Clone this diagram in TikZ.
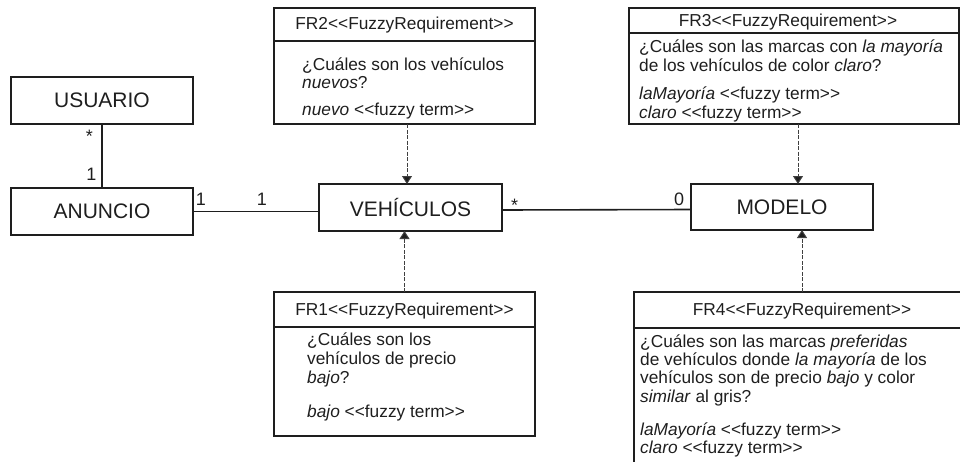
\documentclass[tikz,border=0pt]{standalone}
\usepackage{fontspec}
\setmainfont{Liberation Sans}
\usetikzlibrary{arrows.meta,calc}
\definecolor{ink}{RGB}{30,30,30}
\newcommand\LTs{<\kern0pt<}
\newcommand\GTs{>\kern0pt>}
\begin{document}
\begin{tikzpicture}[x=1pt,y=-1pt,
  box/.style={draw=ink, line width=1.6pt, outer sep=0pt, inner sep=0pt, anchor=north west},
  cls/.style={font=\fontsize{21}{25}\selectfont, text=ink},
  txt/.style={font=\fontsize{17.3}{20}\selectfont, text=ink, anchor=base west, inner sep=0pt},
  hdr/.style={font=\fontsize{17.3}{20}\selectfont, text=ink, anchor=base, inner sep=0pt},
  mult/.style={font=\fontsize{18}{21}\selectfont, text=ink, anchor=base, inner sep=0pt},
  assoc/.style={draw=ink, line width=1.6pt},
  sep/.style={draw=ink, line width=1.6pt},
  dep/.style={draw=ink!85, line width=1pt, dash pattern=on 4pt off 1.5pt, -{Triangle[width=10pt,length=8pt,fill=ink]}}
]
\useasboundingbox (0,0) rectangle (960,461);
\clip (0,0) rectangle (960,461);

% classes
\node[box, cls, minimum width=182pt, minimum height=47pt] (usuario) at (11,77) {USUARIO};
\node[box, cls, minimum width=182pt, minimum height=47pt] (anuncio) at (11,188) {ANUNCIO};
\node[box, cls, minimum width=183pt, minimum height=47pt] (veh) at (319,184) {VEHÍCULOS};
\node[box, cls, minimum width=182pt, minimum height=46pt] (modelo) at (691,184) {MODELO};

% FR2
\node[box, minimum width=261pt, minimum height=116pt] (fr2) at (274,8) {};
\draw[sep] (fr2.west |- 0,41) -- (fr2.east |- 0,41);
\node[hdr] (fr2h) at (fr2.north |- 0,29) {FR2\LTs FuzzyRequirement\GTs};
\node[txt] (fr2a) at (302,70) {¿Cuáles son los vehículos};
\node[txt] (fr2b) at (302,88) {\textit{nuevos}?};
\node[txt] (fr2c) at (302,115) {\textit{nuevo} \LTs fuzzy term\GTs};

% FR3
\node[box, minimum width=330pt, minimum height=116pt] (fr3) at (629,8) {};
\draw[sep] (fr3.west |- 0,33) -- (fr3.east |- 0,33);
\node[hdr] (fr3h) at (788,26) {FR3\LTs FuzzyRequirement\GTs};
\node[txt] (fr3a) at (639,52) {¿Cuáles son las marcas con \textit{la mayoría}};
\node[txt] (fr3b) at (639,71) {de los vehículos de color \textit{claro}?};
\node[txt] (fr3c) at (639,99) {\textit{laMayoría} \LTs fuzzy term\GTs};
\node[txt] (fr3d) at (639,118) {\textit{claro} \LTs fuzzy term\GTs};

% FR1
\node[box, minimum width=261pt, minimum height=144pt] (fr1) at (274,292) {};
\draw[sep] (fr1.west |- 0,327) -- (fr1.east |- 0,327);
\node[hdr] (fr1h) at (fr1.north |- 0,315) {FR1\LTs FuzzyRequirement\GTs};
\node[txt] (fr1a) at (307,345) {¿Cuáles son los};
\node[txt] (fr1b) at (307,364) {vehículos de precio};
\node[txt] (fr1c) at (307,383) {\textit{bajo}?};
\node[txt] (fr1d) at (307,417) {\textit{bajo} \LTs fuzzy term\GTs};

% FR4
\node[box, minimum width=336pt, minimum height=190pt] (fr4) at (634,292) {};
\draw[sep] (fr4.west |- 0,328) -- (fr4.east |- 0,328);
\node[hdr] (fr4h) at (fr4.north |- 0,315) {FR4\LTs FuzzyRequirement\GTs};
\node[txt] (fr4a) at (640,347) {¿Cuáles son las marcas \textit{preferidas}};
\node[txt] (fr4b) at (640,365) {de vehículos donde \textit{la mayoría} de los};
\node[txt] (fr4c) at (640,383) {vehículos son de precio \textit{bajo} y color};
\node[txt] (fr4d) at (640,402) {\textit{similar} al gris?};
\node[txt] (fr4e) at (640,435) {\textit{laMayoría} \LTs fuzzy term\GTs};
\node[txt] (fr4f) at (640,453) {\textit{claro} \LTs fuzzy term\GTs};

% associations
\draw[assoc] (usuario) -- (anuncio);
\draw[assoc] (anuncio.east) -- (anuncio.east -| veh.west);
\draw[assoc] ([yshift=-2.5pt]veh.east) -- ([yshift=-2.5pt]modelo.west);

% multiplicities
\node[mult] (m1) at (89.5,142) {*};
\node[mult] (m2) at (91.5,180) {1};
\node[mult] (m3) at (201,205) {1};
\node[mult] (m4) at (262,205) {1};
\node[mult] (m5) at (514.5,211) {*};
\node[mult] (m6) at (679,205) {0};

% dependencies
\draw[dep] ([xshift=2.5pt]fr2.south) -- ([xshift=2.5pt]fr2.south |- veh.north);
\draw[dep] ([xshift=4pt]fr3.south) -- ([xshift=4pt]fr3.south |- modelo.north);
\draw[dep] (fr1.north) -- (fr1.north |- veh.south);
\draw[dep] (fr4.north) -- (fr4.north |- modelo.south);
\end{tikzpicture}
\end{document}
